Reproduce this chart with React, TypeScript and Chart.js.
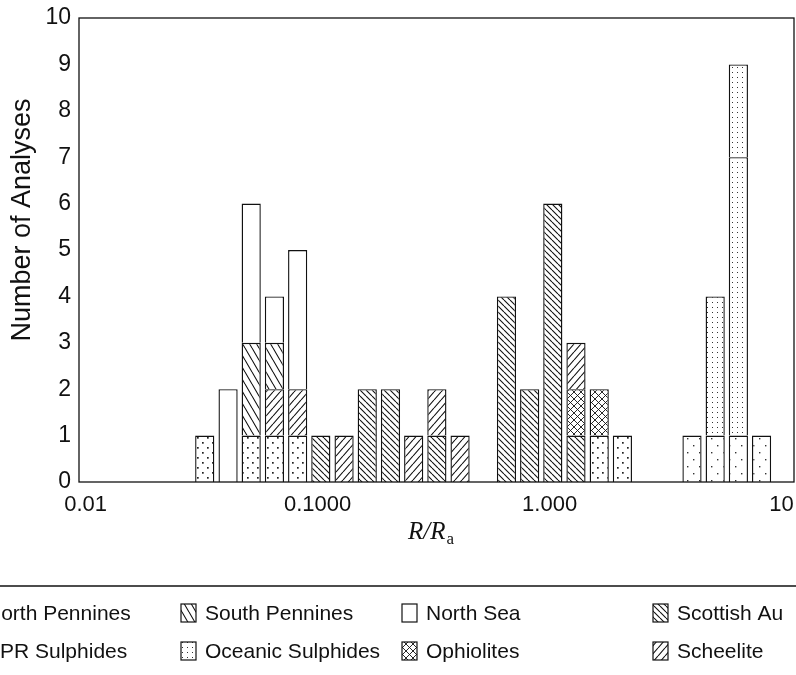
import React, { useEffect, useRef } from "react";
import { Chart, registerables } from "chart.js";

Chart.register(...registerables);

// R/Ra bin centres (log-spaced bins, one tenth of a decade wide)
const binCenters = [
  0.0326, 0.0411, 0.0517, 0.0651, 0.082, 0.1032, 0.13, 0.1636, 0.206, 0.2594,
  0.3265, 0.4111, 0.5175, 0.6515, 0.8202, 1.032, 1.299, 1.636, 2.059, 2.592,
  3.264, 4.109, 5.172, 6.511, 8.197,
];

// Number of analyses per bin, per data set (stacked bottom -> top)
const northPennines = [1, 0, 1, 1, 1, 0, 0, 0, 0, 0, 0, 0, 0, 0, 0, 0, 0, 1, 1, 0, 0, 0, 0, 0, 0];
const eprSulphides = [0, 0, 0, 0, 0, 0, 0, 0, 0, 0, 0, 0, 0, 0, 0, 0, 0, 0, 0, 0, 0, 1, 1, 1, 1];
const scottishAu = [0, 0, 0, 0, 0, 1, 0, 2, 2, 0, 1, 0, 0, 4, 2, 6, 1, 0, 0, 0, 0, 0, 0, 0, 0];
const ophiolites = [0, 0, 0, 0, 0, 0, 0, 0, 0, 0, 0, 0, 0, 0, 0, 0, 1, 1, 0, 0, 0, 0, 0, 0, 0];
const scheelite = [0, 0, 0, 1, 1, 0, 1, 0, 0, 1, 1, 1, 0, 0, 0, 0, 1, 0, 0, 0, 0, 0, 0, 0, 0];
const southPennines = [0, 0, 2, 1, 0, 0, 0, 0, 0, 0, 0, 0, 0, 0, 0, 0, 0, 0, 0, 0, 0, 0, 0, 0, 0];
const northSea = [0, 2, 3, 1, 3, 0, 0, 0, 0, 0, 0, 0, 0, 0, 0, 0, 0, 0, 0, 0, 0, 0, 0, 0, 0];
const oceanicSulphides = [0, 0, 0, 0, 0, 0, 0, 0, 0, 0, 0, 0, 0, 0, 0, 0, 0, 0, 0, 0, 0, 0, 3, 6, 0];
const oceanicSulphidesUpper = [0, 0, 0, 0, 0, 0, 0, 0, 0, 0, 0, 0, 0, 0, 0, 0, 0, 0, 0, 0, 0, 0, 0, 2, 0];

const xTickValues = [0.01, 0.1, 1, 10];
const xTickLabels = ["0.01", "0.1000", "1.000", "10"];
const yMin = 0;
const yMax = 10;
const yTitle = "Number of Analyses";

const legendRow1 = ["North Pennines", "South Pennines", "North Sea", "Scottish Au"];
const legendRow2 = ["EPR Sulphides", "Oceanic Sulphides", "Ophiolites", "Scheelite"];

const INK = "#111";
const SANS = '"Liberation Sans", Arial, Helvetica, sans-serif';
const SERIF = '"Liberation Serif", "Times New Roman", serif';

type Draw = (g: CanvasRenderingContext2D, w: number, h: number) => void;

function makeTile(ctx: CanvasRenderingContext2D, w: number, h: number, draw: Draw) {
  const c = document.createElement("canvas");
  c.width = w;
  c.height = h;
  const g = c.getContext("2d")!;
  g.fillStyle = "#fff";
  g.fillRect(0, 0, w, h);
  g.strokeStyle = INK;
  g.fillStyle = INK;
  draw(g, w, h);
  return ctx.createPattern(c, "repeat")!;
}

const backLines = (lw: number): Draw => (g, w, h) => {
  g.lineWidth = lw;
  g.beginPath();
  for (const o of [-w, 0, w]) {
    g.moveTo(o, 0);
    g.lineTo(o + w, h);
  }
  g.stroke();
};
const fwdLines = (lw: number): Draw => (g, w, h) => {
  g.lineWidth = lw;
  g.beginPath();
  for (const o of [-w, 0, w]) {
    g.moveTo(o, h);
    g.lineTo(o + w, 0);
  }
  g.stroke();
};
const dots = (pts: number[][], r: number, col: string): Draw => (g) => {
  g.fillStyle = col;
  for (const [x, y] of pts) g.fillRect(x, y, r, r);
};

function makePatterns(ctx: CanvasRenderingContext2D) {
  return {
    northPennines: makeTile(ctx, 10, 10, dots([[2, 2], [7, 7]], 1.7, "#222")),
    eprSulphides: makeTile(ctx, 12, 14, dots([[3, 4], [9, 11]], 1.4, "#333")),
    scottishAu: makeTile(ctx, 6, 6, backLines(1.1)),
    ophiolites: makeTile(ctx, 7, 7, (g, w, h) => {
      backLines(0.9)(g, w, h);
      fwdLines(0.9)(g, w, h);
    }),
    scheelite: makeTile(ctx, 7, 8, fwdLines(1.1)),
    southPennines: makeTile(ctx, 7, 12, backLines(1.1)),
    northSea: "#ffffff",
    oceanicSulphides: makeTile(ctx, 5, 5, dots([[2, 2]], 1, "#333")),
  } as Record<string, CanvasPattern | string>;
}

const legendKeys1 = ["northPennines", "southPennines", "northSea", "scottishAu"];
const legendKeys2 = ["eprSulphides", "oceanicSulphides", "ophiolites", "scheelite"];
const legendCols = [
  { icon: -38, text: -14 },
  { icon: 181, text: 205 },
  { icon: 402, text: 426 },
  { icon: 653, text: 677 },
];
const legendRowsY = [613, 651];

export default function App() {
  const ref = useRef<HTMLCanvasElement>(null);

  useEffect(() => {
    const canvas = ref.current!;
    const ctx = canvas.getContext("2d")!;
    const pats = makePatterns(ctx);

    Chart.defaults.font.family = SANS;
    Chart.defaults.color = INK;

    const mk = (label: string, values: number[], key: string) => ({
      label,
      data: binCenters.map((x, i) => ({ x, y: values[i] > 0 ? values[i] : null })),
      backgroundColor: pats[key],
      borderColor: INK,
      borderWidth: 1.4,
      borderSkipped: "start" as const,
      inflateAmount: 0,
      barPercentage: 0.83,
      categoryPercentage: 1,
    });

    const decor = {
      id: "decor",
      afterDatasetsDraw(chart: any) {
        const { ctx: c, chartArea: a } = chart;
        c.save();
        c.strokeStyle = INK;
        c.lineWidth = 1.3;
        c.strokeRect(a.left, a.top, a.right - a.left, a.bottom - a.top);
        c.restore();
      },
      afterDraw(chart: any) {
        const c: CanvasRenderingContext2D = chart.ctx;
        const a = chart.chartArea;
        c.save();
        c.fillStyle = INK;

        // y-axis title
        c.save();
        c.font = `27px ${SANS}`;
        c.textAlign = "center";
        c.textBaseline = "middle";
        c.translate(23, 220);
        c.rotate(-Math.PI / 2);
        c.fillText(yTitle, 0, 0);
        c.restore();

        // x-axis title R/Ra
        c.textBaseline = "alphabetic";
        c.font = `italic 25px ${SERIF}`;
        const main = "R/R";
        const wMain = c.measureText(main).width;
        c.font = `17px ${SERIF}`;
        const wSub = c.measureText("a").width;
        const cx = (a.left + a.right) / 2 - 6;
        const x0 = cx - (wMain + wSub) / 2;
        c.font = `italic 25px ${SERIF}`;
        c.fillText(main, x0, 539);
        c.font = `17px ${SERIF}`;
        c.fillText("a", x0 + wMain + 1, 544);

        // legend separator
        c.strokeStyle = INK;
        c.lineWidth = 1.3;
        c.beginPath();
        c.moveTo(0, 586);
        c.lineTo(796, 586);
        c.stroke();

        // legend entries
        const rows = [
          [legendRow1, legendKeys1],
          [legendRow2, legendKeys2],
        ];
        c.font = `21px ${SANS}`;
        c.textBaseline = "middle";
        rows.forEach(([labels, keys], r) => {
          const y = legendRowsY[r];
          (labels as string[]).forEach((lab, i) => {
            const col = legendCols[i];
            c.fillStyle = pats[(keys as string[])[i]] as any;
            c.fillRect(col.icon, y - 9, 15, 18);
            c.lineWidth = 1.2;
            c.strokeStyle = INK;
            c.strokeRect(col.icon, y - 9, 15, 18);
            c.fillStyle = INK;
            c.fillText(lab, col.text, y + 1);
          });
        });
        c.restore();
      },
    };

    const chart = new Chart(ctx, {
      type: "bar",
      data: {
        datasets: [
          mk("North Pennines", northPennines, "northPennines"),
          mk("EPR Sulphides", eprSulphides, "eprSulphides"),
          mk("Scottish Au", scottishAu, "scottishAu"),
          mk("Ophiolites", ophiolites, "ophiolites"),
          mk("Scheelite", scheelite, "scheelite"),
          mk("South Pennines", southPennines, "southPennines"),
          mk("North Sea", northSea, "northSea"),
          mk("Oceanic Sulphides", oceanicSulphides, "oceanicSulphides"),
          mk("Oceanic Sulphides", oceanicSulphidesUpper, "oceanicSulphides"),
        ] as any,
      },
      options: {
        responsive: false,
        animation: false,
        devicePixelRatio: 1,
        layout: { padding: { top: 18, right: 2, left: 0, bottom: 0 } },
        plugins: { legend: { display: false }, tooltip: { enabled: false } },
        scales: {
          x: {
            type: "logarithmic",
            min: 0.009358,
            max: 11.31,
            stacked: true,
            grid: { display: false, drawTicks: false },
            border: { display: false },
            afterBuildTicks: (s: any) => {
              s.ticks = xTickValues.map((v) => ({ value: v }));
            },
            afterFit: (s: any) => {
              s.height = 193;
              s.paddingLeft = 0;
              s.paddingRight = 0;
            },
            ticks: {
              autoSkip: false,
              maxRotation: 0,
              padding: 10,
              font: { size: 22 },
              color: INK,
              callback: (_v: any, i: number) => xTickLabels[i],
            },
          },
          y: {
            type: "linear",
            min: yMin,
            max: yMax,
            stacked: true,
            grid: { display: false, drawTicks: false },
            border: { display: false },
            afterFit: (s: any) => {
              s.width = 79;
              s.paddingTop = 0;
              s.paddingBottom = 0;
            },
            ticks: { stepSize: 1, padding: 8, font: { size: 23 }, color: INK },
          },
        },
      } as any,
      plugins: [decor],
    });
    return () => chart.destroy();
  }, []);

  return (
    <div style={{ position: "absolute", left: 0, top: 0, width: 796, height: 675, background: "#fff" }}>
      <canvas ref={ref} width={796} height={675} style={{ display: "block" }} />
    </div>
  );
}
